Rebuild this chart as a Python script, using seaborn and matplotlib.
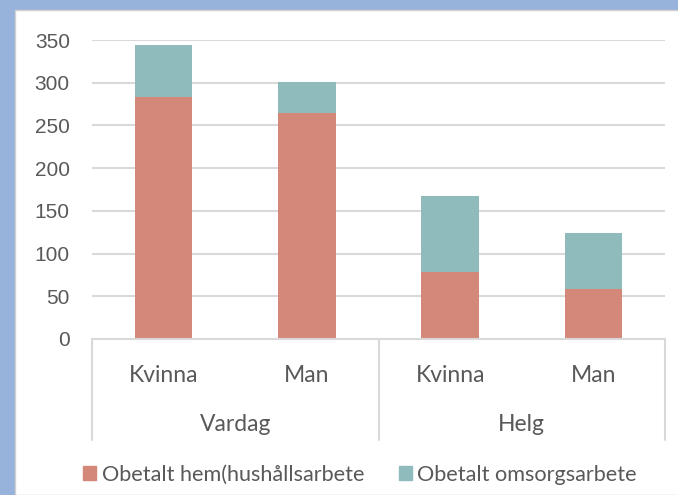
import matplotlib
matplotlib.use("Agg")
import matplotlib.pyplot as plt
import matplotlib.patches as mpatches
import seaborn as sns
import pandas as pd

# data
dagtyp = ["Vardag", "Vardag", "Helg", "Helg"]
kon = ["Kvinna", "Man", "Kvinna", "Man"]
hem = [283, 265, 78, 59]
omsorg = [61, 36, 89, 65]
y_ticks = [0, 50, 100, 150, 200, 250, 300, 350]

RED = "#d4887a"
TEAL = "#8fbbbd"
GREY_TXT = "#595959"
GRID = "#d9d9d9"

df = pd.DataFrame({"dag": dagtyp, "kon": kon, "hem": hem, "omsorg": omsorg})
df["pos"] = [f"{d}-{k}" for d, k in zip(df["dag"], df["kon"])]
df["total"] = df["hem"] + df["omsorg"]

sns.set_theme(style="white")
plt.rcParams["font.family"] = ["Lato", "DejaVu Sans"]

fig = plt.figure(figsize=(6.78, 4.95), dpi=100)
fig.patch.set_facecolor("#97b3dc")
# white panel
panel = mpatches.Rectangle((15 / 678, 0), 1, 1 - 10 / 495, transform=fig.transFigure,
                           facecolor="white", edgecolor="#d0d0d0", linewidth=1, zorder=-10)
fig.patches.append(panel)

ax = fig.add_axes([92 / 678, 1 - 339 / 495, (665 - 92) / 678, (339 - 40) / 495])
ax.set_facecolor("none")

order = list(df["pos"])
sns.barplot(data=df, x="pos", y="total", order=order, color=TEAL, width=0.4,
            saturation=1, linewidth=0, ax=ax, zorder=3)
sns.barplot(data=df, x="pos", y="hem", order=order, color=RED, width=0.4,
            saturation=1, linewidth=0, ax=ax, zorder=4)

ax.set_ylim(0, 350)
ax.set_xlim(-0.5, 3.5)
ax.set_yticks(y_ticks)
ax.set_yticklabels([str(v) for v in y_ticks], fontsize=15, color=GREY_TXT,
                   family=["Liberation Sans", "DejaVu Sans"])
ax.tick_params(axis="y", length=0, pad=16)
ax.set_xticks([])
ax.set_xlabel("")
ax.set_ylabel("")
for s in ax.spines.values():
    s.set_visible(False)
for v in y_ticks[1:]:
    ax.axhline(v, color=GRID, linewidth=1.5, zorder=1)
ax.axhline(0, color=GRID, linewidth=1.5, zorder=5, clip_on=False)

# multi-level category axis
trans = ax.get_xaxis_transform()
sep_bottom = -(440 - 339) / (339 - 40)
for xv in [-0.5, 1.5, 3.5]:
    ax.plot([xv, xv], [0, sep_bottom], color=GRID, linewidth=1.5, transform=trans,
            clip_on=False)
y_kon = -(375 - 339) / (339 - 40)
y_dag = -(425 - 339) / (339 - 40)
for i, k in enumerate(kon):
    ax.text(i, y_kon, k, transform=trans, ha="center", va="center", fontsize=16.5,
            color=GREY_TXT)
ax.text(0.5, y_dag, "Vardag", transform=trans, ha="center", va="center", fontsize=16.5,
        color=GREY_TXT)
ax.text(2.5, y_dag, "Helg", transform=trans, ha="center", va="center", fontsize=16.5,
        color=GREY_TXT)

handles = [mpatches.Patch(color=RED, label="Obetalt hem(hushållsarbete"),
           mpatches.Patch(color=TEAL, label="Obetalt omsorgsarbete")]
fig.legend(handles=handles, loc="center", bbox_to_anchor=(360 / 678, 1 - 475 / 495),
           ncol=2, frameon=False, fontsize=15.6, labelcolor=GREY_TXT,
           handlelength=0.6, handleheight=0.6, handletextpad=0.25, columnspacing=1.6)

fig.savefig("out.png", dpi=100)
